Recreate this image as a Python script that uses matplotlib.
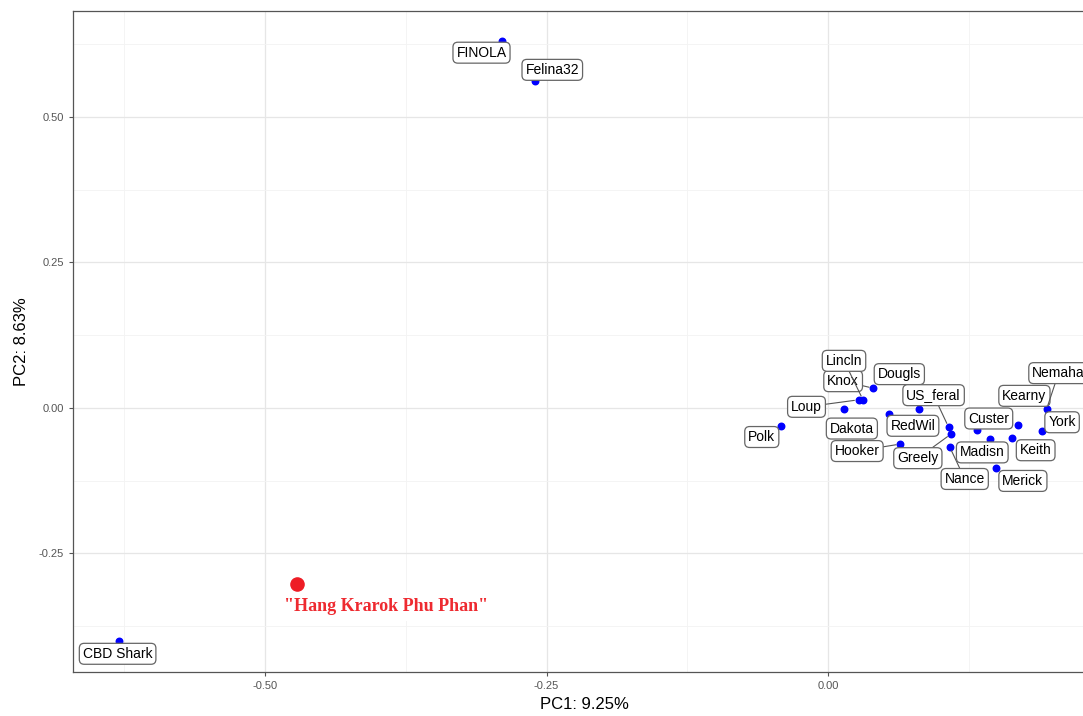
import matplotlib.pyplot as plt
from matplotlib.ticker import MultipleLocator, FormatStrFormatter

plt.rcParams['font.family'] = ['Liberation Sans', 'DejaVu Sans']

# PCA scores
names = ["FINOLA", "Felina32", "CBD Shark", "Polk", "Knox", "Lincln", "Loup",
         "Dakota", "Dougls", "RedWil", "US_feral", "Hooker", "Greely", "Nance",
         "Custer", "Madisn", "Keith", "Kearny", "Nemaha", "York", "Merick"]
pc1 = [-0.290, -0.260, -0.630, -0.042, 0.040, 0.031, 0.027,
       0.014, 0.081, 0.054, 0.107, 0.064, 0.109, 0.108,
       0.132, 0.144, 0.163, 0.169, 0.194, 0.190, 0.149]
pc2 = [0.631, 0.562, -0.400, -0.031, 0.034, 0.014, 0.014,
       -0.001, -0.002, -0.010, -0.033, -0.062, -0.045, -0.067,
       -0.037, -0.054, -0.052, -0.029, -0.002, -0.040, -0.103]

new_name = '"Hang Krarok Phu Phan"'
new_pc1 = -0.472
new_pc2 = -0.302

# label offsets (pixels) like the repel layout
offsets = {
    "FINOLA": (-20, -12), "Felina32": (17, 11), "CBD Shark": (-1, -13),
    "Polk": (-19, -11), "Knox": (-30, 7), "Lincln": (-19, 39), "Loup": (-52, -7),
    "Dakota": (8, -20), "Dougls": (-20, 35), "RedWil": (24, -12),
    "US_feral": (-15, 32), "Hooker": (-43, -7), "Greely": (-33, -24),
    "Nance": (15, -32), "Custer": (12, 11), "Madisn": (-8, -13),
    "Keith": (24, -12), "Kearny": (6, 29), "Nemaha": (12, 36),
    "York": (20, 9), "Merick": (27, -13),
}

fig = plt.figure(figsize=(10.83, 7.16), dpi=100)
W, H = 1083, 716
ax = fig.add_axes([73 / W, 1 - 672 / H, (1095 - 73) / W, (672 - 11) / H])

ax.set_xlim(-0.6705, 0.237)
ax.set_ylim(-0.4536, 0.682)

ax.xaxis.set_major_locator(MultipleLocator(0.25))
ax.yaxis.set_major_locator(MultipleLocator(0.25))
ax.xaxis.set_minor_locator(MultipleLocator(0.125))
ax.yaxis.set_minor_locator(MultipleLocator(0.125))
ax.xaxis.set_major_formatter(FormatStrFormatter('%.2f'))
ax.yaxis.set_major_formatter(FormatStrFormatter('%.2f'))
ax.grid(which='major', color='#e6e6e6', linewidth=0.9)
ax.grid(which='minor', color='#f3f3f3', linewidth=0.6)
ax.set_axisbelow(True)
ax.tick_params(which='major', colors='#555555', labelsize=8, length=3, width=0.8)
ax.tick_params(which='minor', length=0)
for sp in ax.spines.values():
    sp.set_color('#555555')
    sp.set_linewidth(0.9)

ax.scatter(pc1, pc2, s=22, color='#0000ff', zorder=3)

for n, x, y in zip(names, pc1, pc2):
    dx, dy = offsets[n]
    far = (dx * dx + dy * dy) ** 0.5 > 30
    ax.annotate(n, (x, y), xytext=(dx, dy), textcoords='offset pixels',
                ha='center', va='center', fontsize=10, color='black', zorder=4,
                bbox=dict(boxstyle='round,pad=0.25,rounding_size=0.35',
                          fc='white', ec='#666666', lw=0.9),
                arrowprops=dict(arrowstyle='-', color='#555555', lw=0.8,
                                shrinkA=0, shrinkB=3) if far else None,
                annotation_clip=False)

ax.annotate(new_name, (new_pc1, new_pc2), xytext=(90, -23),
            textcoords='offset pixels', ha='center', va='center',
            fontsize=13, fontweight='bold', color='#ee2a30',
            family=['Liberation Serif', 'DejaVu Serif'],
            bbox=dict(boxstyle='square,pad=0.3', fc='white', ec='none'),
            zorder=4)
ax.scatter([new_pc1], [new_pc2], s=90, color='#ee1c25', zorder=5)

ax.set_xlabel("PC1: 9.25%", fontsize=12)
ax.set_ylabel("PC2: 8.63%", fontsize=12)
ax.xaxis.set_label_coords(0.5, -0.038)
ax.yaxis.set_label_coords(-0.043, 0.5)

fig.savefig("out.png", dpi=100)
